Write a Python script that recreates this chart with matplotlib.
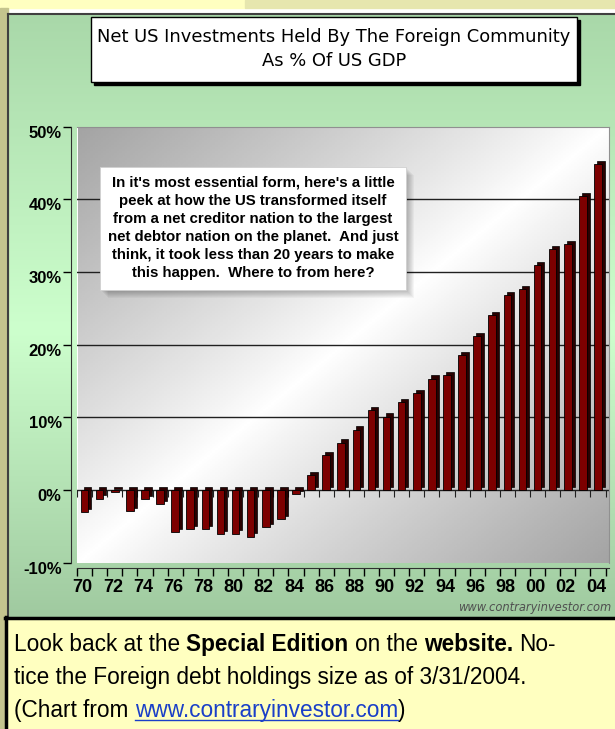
import matplotlib
matplotlib.use("Agg")
import matplotlib.pyplot as plt
import numpy as np
from matplotlib import font_manager
from matplotlib.patches import Rectangle
from matplotlib.transforms import ScaledTranslation

# net US investments held by foreigners, % of GDP
years = list(range(1970, 2005))
values = [-3.0, -1.2, -0.3, -2.9, -1.3, -1.9, -5.8, -5.4, -5.4, -6.1,
          -6.0, -6.4, -5.1, -4.0, -0.6, 2.0, 4.8, 6.5, 8.3, 11.0,
          10.1, 12.1, 13.3, 15.3, 15.8, 18.6, 21.2, 24.1, 26.8, 27.6,
          30.9, 33.1, 33.8, 40.4, 44.8]
year_labels = ['70', '72', '74', '76', '78', '80', '82', '84', '86', '88',
               '90', '92', '94', '96', '98', '00', '02', '04']
y_ticks = [-10, 0, 10, 20, 30, 40, 50]
y_labels = ['-10%', '0%', '10%', '20%', '30%', '40%', '50%']

title_lines = ["Net US Investments Held By The Foreign Community", "As % Of US GDP"]
note = ("In it's most essential form, here's a little\n"
        "peek at how the US transformed itself\n"
        "from a net creditor nation to the largest\n"
        "net debtor nation on the planet.  And just\n"
        "think, it took less than 20 years to make\n"
        "this happen.  Where to from here?")
caption = [
    [("Look back at the", "normal", "k"), ("Special Edition", "bold", "k"),
     ("on the", "normal", "k"), ("website.", "bold", "k"), ("No-", "normal", "k")],
    [("tice the Foreign debt holdings size as of 3/31/2004.", "normal", "k")],
    [("(Chart from", "normal", "k"), ("www.contraryinvestor.com", "link", "#1a3fc8"),
     (")", "nospace", "k")],
]


def pick_font(names):
    have = {f.name for f in font_manager.fontManager.ttflist}
    for n in names:
        if n in have:
            return n
    return "DejaVu Sans"


narrow = pick_font(["Liberation Sans Narrow", "DejaVu Sans Condensed", "Liberation Sans"])
arial = pick_font(["Liberation Sans", "Arial"])

W, H = 615, 729
fig = plt.figure(figsize=(6.15, 7.29), dpi=100)

# ---------- background (pixel coords) ----------
bg = fig.add_axes([0, 0, 1, 1], zorder=0)
bg.axis("off")
ys = np.linspace(14, 617, 300)
stops_y = [14, 330, 617]
cols = np.array([[169, 216, 169], [205, 255, 205], [160, 202, 160]]) / 255
grad = np.stack([np.interp(ys, stops_y, cols[:, i]) for i in range(3)], axis=1)
bg.imshow(grad[:, None, :], extent=[8, W, 617, 14], aspect="auto", origin="upper")
bg.add_patch(Rectangle((0, 0), 245, 8, color="#ffffc0"))
bg.add_patch(Rectangle((245, 0), W - 245, 8, color="#e6e6ae"))
bg.add_patch(Rectangle((0, 8), 8, H, color="#c4c48e"))
bg.plot([8, W], [14, 14], color="#404040", lw=1.5)
bg.plot([8, 8], [14, 617], color="#404040", lw=1.5)
bg.add_patch(Rectangle((5, 617), W, H - 617, facecolor="#ffffc0", edgecolor="none"))
bg.plot([5, W], [618, 618], color="black", lw=2.5)
bg.plot([5.5, 5.5], [617, H], color="black", lw=2.5)
bg.set_xlim(0, W)
bg.set_ylim(H, 0)

# ---------- main chart ----------
ax = fig.add_axes([77 / W, 1 - 562.7 / H, 532 / W, (562.7 - 126.5) / H], zorder=2)
x = np.arange(len(years))
xlim = (-0.46, len(years) - 1 + 0.73)
ax.set_xlim(*xlim)
ax.set_ylim(-10, 50)

# wall gradient: grey corners, white diagonal band
gx, gy = np.meshgrid(np.linspace(0, 1, 200), np.linspace(0, 1, 200))
shade = 1 - 0.36 * np.abs(gx + gy - 1) ** 0.9
ax.imshow(shade, cmap="gray", vmin=0, vmax=1, extent=[xlim[0], xlim[1], -10, 50],
          origin="upper", aspect="auto", zorder=0)

for t in [0, 10, 20, 30, 40]:
    ax.axhline(t, color="#202020", lw=1.0, zorder=1)

# bars with a dark depth face to mimic the 3-D columns
w = 0.5
ax.bar(x + 0.2, values, width=w, bottom=0.45, color="#2a0000", edgecolor="black",
       lw=0.5, zorder=2)
ax.bar(x, values, width=w, color="#7d0000", edgecolor="black", lw=0.6, zorder=3)

# small ticks along the zero line
ax.vlines(np.arange(len(years) + 1) - 0.5, -0.9, 0, color="#202020", lw=0.8, zorder=1)

for s in ["top", "right"]:
    ax.spines[s].set_color("#909090")
ax.spines["left"].set_position(("outward", 4))
ax.spines["bottom"].set_position(("outward", 4))
ax.spines["left"].set_color("#303030")
ax.spines["bottom"].set_color("#303030")

ax.set_yticks(y_ticks)
ax.set_yticklabels(y_labels, fontsize=12, fontweight="bold", family=narrow)
ax.tick_params(axis="y", length=6, width=1, pad=1)
for lab in ax.get_yticklabels():
    lab.set_transform(lab.get_transform() + ScaledTranslation(0, -0.05, fig.dpi_scale_trans))

ax.set_xticks(x[::2])
ax.set_xticklabels(year_labels, fontsize=13, fontweight="bold", family=narrow)
ax.set_xticks(np.arange(len(years) + 1) - 0.5, minor=True)
ax.tick_params(axis="x", which="major", length=0, pad=8)
ax.tick_params(axis="x", which="minor", length=6, width=1)
for lab in ax.get_xticklabels():
    lab.set_transform(lab.get_transform() + ScaledTranslation(-0.02, 0, fig.dpi_scale_trans))

# ---------- overlay (pixel coords) ----------
ov = fig.add_axes([0, 0, 1, 1], zorder=3)
ov.axis("off")
ov.patch.set_alpha(0)
ov.set_xlim(0, W)
ov.set_ylim(H, 0)

# title box with hard shadow
ov.add_patch(Rectangle((94, 20), 486, 65, color="black"))
ov.add_patch(Rectangle((91, 17), 486, 65, facecolor="white", edgecolor="black", lw=1))
ov.text(334, 37, title_lines[0], ha="center", va="center", fontsize=12.9, family="DejaVu Sans")
ov.text(334, 61, title_lines[1], ha="center", va="center", fontsize=12.9, family="DejaVu Sans")

# note box with soft shadow
for i in range(8, 0, -1):
    ov.add_patch(Rectangle((100 + i, 167 + i), 306, 123, color="black", alpha=0.035, lw=0))
ov.add_patch(Rectangle((100, 167), 306, 123, facecolor="white", edgecolor="#d0d0d0", lw=0.6))
ov.text(253, 228, note, ha="center", va="center", fontsize=10.8, fontweight="bold",
        family=arial, linespacing=1.37)

ov.text(611, 607, "www.contraryinvestor.com", ha="right", va="center", fontsize=8.3,
        style="italic", color="#505050", family="DejaVu Sans")

# caption with mixed weights
renderer = fig.canvas.get_renderer()
fs = 16.3
baselines = [651, 684, 717]
probe = ov.text(0, 0, "a a", fontsize=fs, family=arial)
probe2 = ov.text(0, 0, "aa", fontsize=fs, family=arial)
space = probe.get_window_extent(renderer).width - probe2.get_window_extent(renderer).width
probe.remove()
probe2.remove()
for line, yb in zip(caption, baselines):
    cx = 14
    for k, (txt, kind, col) in enumerate(line):
        if k > 0 and kind != "nospace":
            cx += space
        weight = "bold" if kind == "bold" else "normal"
        t = ov.text(cx, yb, txt, fontsize=fs, fontweight=weight, color=col,
                    family=arial, va="baseline", ha="left")
        wpx = t.get_window_extent(renderer).width
        if kind == "link":
            ov.plot([cx, cx + wpx], [yb + 2.5, yb + 2.5], color=col, lw=1)
        cx += wpx

fig.savefig("out.png", dpi=100)
